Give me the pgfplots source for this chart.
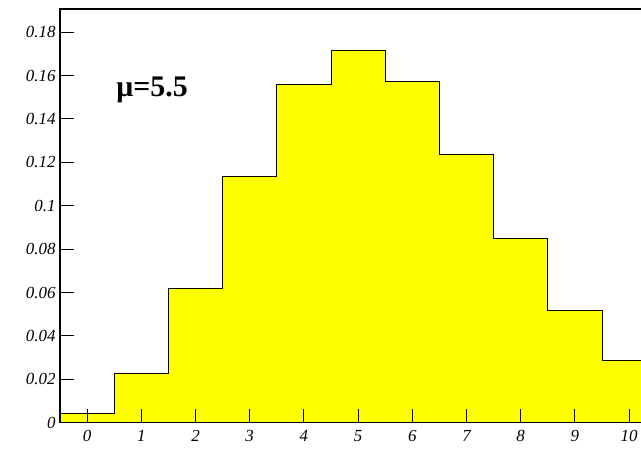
\documentclass[border=0pt]{standalone}
\usepackage{pgfplots}
\pgfplotsset{compat=1.18}
\usepackage{fontspec}
\setmainfont{Liberation Serif}
\definecolor{histfill}{RGB}{255,255,0}

\begin{document}
\begin{tikzpicture}
% Poisson probabilities, mu = 5.5 (left bin edges, last point closes the step)
\begin{axis}[
    x=54.2bp, y=2170bp,
    xmin=-0.5, xmax=10.5,
    ymin=0, ymax=0.1906,
    axis on top,
    axis line style={line width=1.3pt},
    tick style={line width=1.1pt, black},
    major tick length=14bp,
    tick align=inside,
    xtick pos=bottom, ytick pos=left,
    xtick={0,1,2,3,4,5,6,7,8,9,10},
    ytick={0,0.02,0.04,0.06,0.08,0.1,0.12,0.14,0.16,0.18},
    scaled y ticks=false,
    /pgf/number format/assume math mode=true,
    yticklabel style={/pgf/number format/fixed, font=\itshape\fontsize{17}{17}\selectfont, xshift=-1bp},
    xticklabel style={font=\itshape\fontsize{17}{17}\selectfont, yshift=-4bp},
    clip=true,
]
\addplot[const plot, fill=histfill, draw=black, line width=1pt] coordinates {
    (-0.5,0.0041) (0.5,0.0225) (1.5,0.0618) (2.5,0.1133) (3.5,0.1558)
    (4.5,0.1714) (5.5,0.1571) (6.5,0.1234) (7.5,0.0849) (8.5,0.0519)
    (9.5,0.0285) (10.5,0.0285)
} \closedcycle;
\node[font=\bfseries\fontsize{30}{30}\selectfont] at (axis cs:1.2,0.1535) {μ=5.5};
\end{axis}
\pgfresetboundingbox
\useasboundingbox (-60bp,-28.3bp) rectangle (581bp,422.7bp);
\end{tikzpicture}
\end{document}
